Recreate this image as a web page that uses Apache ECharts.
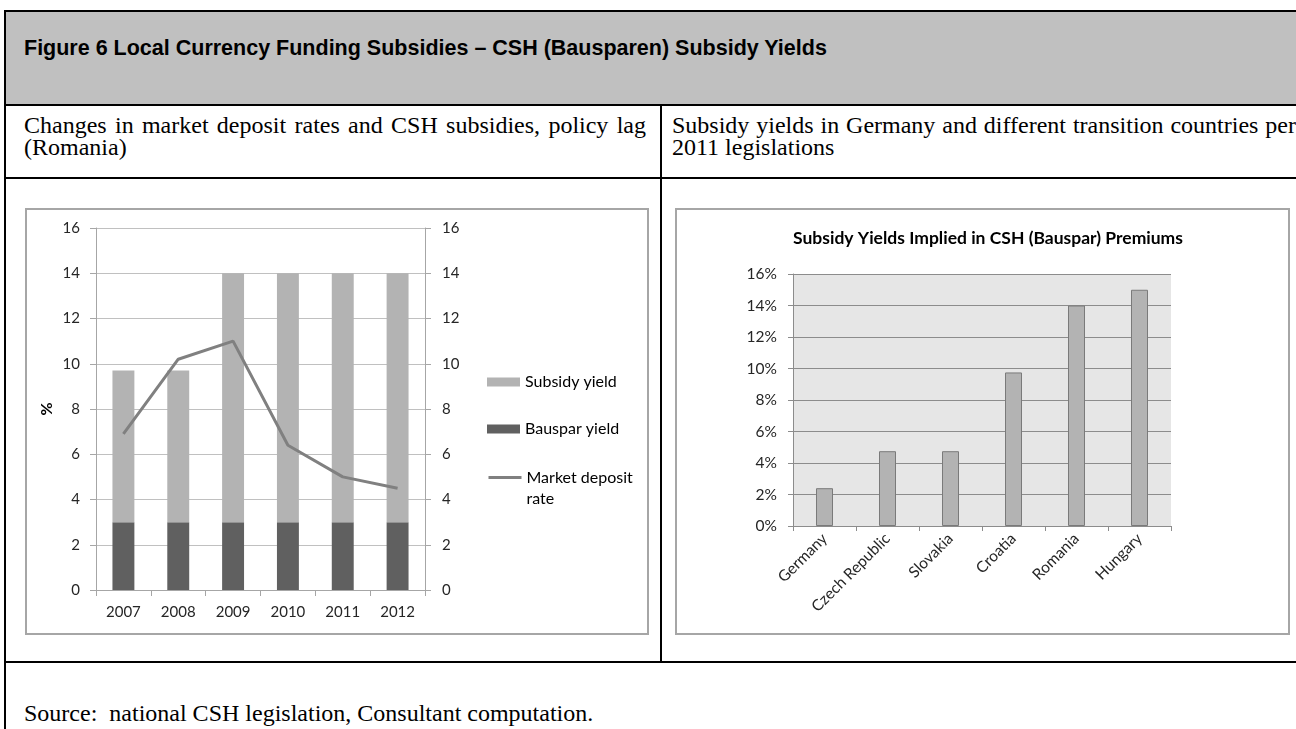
<!DOCTYPE html>
<html>
<head>
<meta charset="utf-8">
<script src="https://cdn.jsdelivr.net/npm/echarts@6/dist/echarts.min.js"></script>
<style>
  html, body { margin:0; padding:0; background:#fff; }
  body { width:1296px; height:729px; position:relative; overflow:hidden; }
  .abs { position:absolute; }
  .ln { position:absolute; background:#000; }
  .serif { font-family:"Liberation Serif","Times New Roman",serif; font-size:24px; line-height:22px; color:#000; }
  .box { position:absolute; box-sizing:border-box; border:2px solid #a6a6a6; background:#fff; }
</style>
</head>
<body>
<div class="abs" style="left:6px;top:12px;width:1290px;height:93px;background:#c0c0c0;"></div>
<div class="ln" style="left:4px;top:10px;width:1292px;height:2px;"></div>
<div class="ln" style="left:4px;top:10px;width:2px;height:719px;"></div>
<div class="ln" style="left:4px;top:104px;width:1292px;height:2px;"></div>
<div class="ln" style="left:4px;top:177px;width:1292px;height:2px;"></div>
<div class="ln" style="left:4px;top:661px;width:1292px;height:2px;"></div>
<div class="ln" style="left:660px;top:104px;width:2px;height:558px;"></div>

<div class="abs" style="left:24px;top:35px;font-family:'Liberation Sans',Arial,sans-serif;font-weight:bold;font-size:21.5px;line-height:26px;color:#000;white-space:nowrap;">Figure 6 Local Currency Funding Subsidies – CSH (Bausparen) Subsidy Yields</div>
<div class="abs serif" style="left:24px;top:114px;width:622px;text-align:justify;">Changes in market deposit rates and CSH subsidies, policy lag (Romania)</div>
<div class="abs serif" style="left:672px;top:114px;width:624px;text-align:justify;">Subsidy yields in Germany and different transition countries per 2011 legislations</div>
<div class="abs serif" style="left:24px;top:702px;white-space:nowrap;">Source:&nbsp; national CSH legislation, Consultant computation.</div>

<div class="box" style="left:25px;top:208px;width:624px;height:427px;"></div>
<div class="box" style="left:675px;top:208px;width:615px;height:427px;"></div>

<div id="chart" class="abs" style="left:0;top:0;width:1296px;height:729px;"></div>
<script>
// ---- Data (left chart: Romania) ----
const years = ['2007', '2008', '2009', '2010', '2011', '2012'];
const bausparYield = [3, 3, 3, 3, 3, 3];
const subsidyYield = [6.7, 6.7, 11, 11, 11, 11];
const marketDepositRate = [6.9, 10.2, 11.0, 6.4, 5.0, 4.5];

// ---- Data (right chart: countries) ----
const countries = ['Germany', 'Czech Republic', 'Slovakia', 'Croatia', 'Romania', 'Hungary'];
const impliedSubsidyYield = [2.4, 4.75, 4.75, 9.75, 14, 15];

const FONT = 'Lato, "Open Sans", sans-serif';
const chart = echarts.init(document.getElementById('chart'), null, { renderer: 'canvas' });

const lblL = { fontFamily: FONT, fontSize: 15, color: '#262626' };
const lblR = { fontFamily: FONT, fontSize: 15.5, color: '#262626' };

chart.setOption({
  backgroundColor: 'transparent',
  animation: false,
  grid: [
    { left: 96, top: 228, width: 329, height: 362, containLabel: false },
    { left: 793, top: 274, width: 378, height: 252, containLabel: false,
      show: true, backgroundColor: '#e6e6e6', borderWidth: 0 }
  ],
  graphic: [
    { type: 'text', x: 988, y: 238,
      style: { text: 'Subsidy Yields Implied in CSH (Bauspar) Premiums', fontFamily: FONT,
               fontWeight: 'bold', fontSize: 17.5, fill: '#000', align: 'center', verticalAlign: 'middle' } }
  ],
  legend: [
    { orient: 'vertical', left: 487, top: 372, padding: 0, itemWidth: 33, itemHeight: 9, itemGap: 27,
      textStyle: { fontFamily: FONT, fontSize: 16, color: '#000', lineHeight: 20 },
      data: [ { name: 'Subsidy yield', icon: 'rect' }, { name: 'Bauspar yield', icon: 'rect' } ] },
    { orient: 'vertical', left: 487, top: 446, padding: 0, itemWidth: 33, itemHeight: 9,
      textStyle: { fontFamily: FONT, fontSize: 16, color: '#000', lineHeight: 21 },
      data: [ { name: 'Market deposit rate',
                itemStyle: { color: 'transparent', borderColor: 'transparent', borderWidth: 0 },
                lineStyle: { color: '#808080', width: 3 } } ],
      formatter: function () { return ' \nMarket deposit\nrate'; } }
  ],
  xAxis: [
    { type: 'category', gridIndex: 0, data: years, boundaryGap: true,
      axisLine: { show: true, lineStyle: { color: '#a6a6a6', width: 1 } },
      axisTick: { show: true, length: 6, alignWithLabel: false, lineStyle: { color: '#a6a6a6' } },
      axisLabel: Object.assign({ margin: 15 }, lblL) },
    { type: 'category', gridIndex: 1, data: countries, boundaryGap: true,
      axisLine: { show: true, lineStyle: { color: '#8c8c8c', width: 1 } },
      axisTick: { show: true, length: 5, alignWithLabel: false, lineStyle: { color: '#8c8c8c' } },
      axisLabel: Object.assign({ rotate: 45, margin: 10, interval: 0 }, lblR) }
  ],
  yAxis: [
    { type: 'value', gridIndex: 0, min: 0, max: 16, interval: 2, position: 'left',
      name: '%', nameLocation: 'middle', nameGap: 41, nameRotate: 90,
      nameTextStyle: { fontFamily: FONT, fontSize: 16, fontWeight: 'bold', color: '#000' },
      axisLine: { show: true, lineStyle: { color: '#a6a6a6' } },
      axisTick: { show: true, length: 6, lineStyle: { color: '#a6a6a6' } },
      splitLine: { show: true, lineStyle: { color: '#c0c0c0', width: 1 } },
      axisLabel: Object.assign({ margin: 16 }, lblL) },
    { type: 'value', gridIndex: 0, min: 0, max: 16, interval: 2, position: 'right',
      axisLine: { show: true, lineStyle: { color: '#a6a6a6' } },
      axisTick: { show: true, length: 6, lineStyle: { color: '#a6a6a6' } },
      splitLine: { show: false },
      axisLabel: Object.assign({ margin: 17 }, lblL) },
    { type: 'value', gridIndex: 1, min: 0, max: 16, interval: 2,
      axisLine: { show: true, lineStyle: { color: '#8c8c8c' } },
      axisTick: { show: true, length: 5, lineStyle: { color: '#8c8c8c' } },
      splitLine: { show: true, lineStyle: { color: '#8c8c8c', width: 1 } },
      axisLabel: Object.assign({ margin: 16, formatter: '{value}%' }, lblR) }
  ],
  series: [
    { name: 'Bauspar yield', type: 'bar', xAxisIndex: 0, yAxisIndex: 0, stack: 'y',
      data: bausparYield, barWidth: '40%', itemStyle: { color: '#606060' } },
    { name: 'Subsidy yield', type: 'bar', xAxisIndex: 0, yAxisIndex: 0, stack: 'y',
      data: subsidyYield, barWidth: '40%', itemStyle: { color: '#b3b3b3' } },
    { name: 'Market deposit rate', type: 'line', xAxisIndex: 0, yAxisIndex: 1,
      data: marketDepositRate, symbol: 'none', showSymbol: false,
      lineStyle: { color: '#808080', width: 3 }, itemStyle: { color: '#808080' } },
    { name: 'Implied subsidy yield', type: 'bar', xAxisIndex: 1, yAxisIndex: 2,
      data: impliedSubsidyYield, barWidth: 17,
      itemStyle: { color: '#b3b3b3', borderColor: '#7a7a7a', borderWidth: 1 } }
  ]
});
</script>
</body>
</html>
